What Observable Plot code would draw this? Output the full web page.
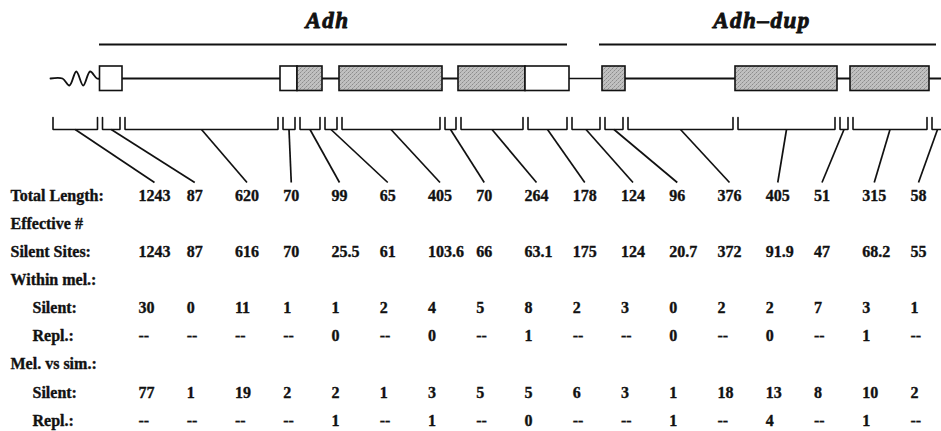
<!DOCTYPE html>
<html>
<head>
<meta charset="utf-8">
<script src="https://cdn.jsdelivr.net/npm/d3@7"></script>
<script src="https://cdn.jsdelivr.net/npm/@observablehq/plot@0.6"></script>
<style>
  html, body { margin: 0; padding: 0; background: #fff; }
  #chart svg { display: block; }
</style>
</head>
<body>
<!-- stippled fill used for the coding exons -->
<svg width="0" height="0" style="position:absolute">
  <defs>
    <pattern id="stipple" width="4" height="4" patternUnits="userSpaceOnUse">
      <rect width="4" height="4" fill="#c0c0c0"/>
      <rect x="0" y="0" width="1" height="1" fill="#8c8c8c"/>
      <rect x="2" y="2" width="1" height="1" fill="#8c8c8c"/>
      <rect x="1" y="3" width="1" height="1" fill="#a4a4a4"/>
      <rect x="3" y="1" width="1" height="1" fill="#a4a4a4"/>
    </pattern>
  </defs>
</svg>
<div id="chart"></div>
<script>
// ---- Gene map: segment boundaries along the schematic map axis ----
const segmentEdges = [50, 99.5, 122, 280, 297, 322, 339, 442, 458, 525, 569, 602, 625, 735, 837, 850, 929, 945];
const segmentKinds = ["flank", "utr", "intron", "utr", "coding", "intron", "coding", "intron", "coding", "utr",
                      "spacer", "coding", "intron", "coding", "intron", "coding", "intron"];
const geneNames = ["Adh", "Adh–dup"];
const geneStart = [99, 599];
const geneEnd = [567, 936];

// ---- Table: one column per map segment ----
const rowLabels = ["Total Length:", "Effective #", "Silent Sites:", "Within mel.:", "Silent:", "Repl.:",
                   "Mel. vs sim.:", "Silent:", "Repl.:"];
const rowLevel = [0, 0, 0, 0, 1, 1, 0, 1, 1];
const totalLength = [1243, 87, 620, 70, 99, 65, 405, 70, 264, 178, 124, 96, 376, 405, 51, 315, 58];
const silentSites = [1243, 87, 616, 70, 25.5, 61, 103.6, 66, 63.1, 175, 124, 20.7, 372, 91.9, 47, 68.2, 55];
const melSilent = [30, 0, 11, 1, 1, 2, 4, 5, 8, 2, 3, 0, 2, 2, 7, 3, 1];
const melRepl = [null, null, null, null, 0, null, 0, null, 1, null, null, 0, null, 0, null, 1, null];
const simSilent = [77, 1, 19, 2, 2, 1, 3, 5, 5, 6, 3, 1, 18, 13, 8, 10, 2];
const simRepl = [null, null, null, null, 1, null, 1, null, 0, null, null, 1, null, 4, null, 1, null];

// which table row each value list fills
const rowValues = [[0, totalLength], [2, silentSites], [4, melSilent], [5, melRepl], [7, simSilent], [8, simRepl]];

// ---- layout of the map tiers ----
const tier = {title: 20, geneBar: 44, axis: 78, exonTop: 66, exonBottom: 90.5,
              bracketTop: 117, bracketBottom: 129, leaderEnd: 182};
const font = "'Liberation Serif', 'Times New Roman', serif";
const ink = "#111";

// table column / row positions
const col = Plot.scale({x: {type: "linear", domain: [0, totalLength.length - 1], range: [138, 910]}});
const row = Plot.scale({y: {type: "linear", domain: [0, rowLabels.length - 1], range: [195, 420]}});

const fmt = v => v == null ? "--" : String(v);

const segments = segmentKinds.map((kind, i) => ({i, kind, x0: segmentEdges[i], x1: segmentEdges[i + 1]}));
const exons = segments.filter(s => s.kind === "utr" || s.kind === "coding");
const links = segments.filter(s => s.kind === "intron" || s.kind === "spacer");
const flank = segments.find(s => s.kind === "flank");

// 5' flanking region: straight line with a wavy break
const waveOffsets = [0, 7, -7, 7, -7, 0];
const waveFrom = flank.x0 + 12, waveTo = flank.x1 - 3;
const flankPath = [
  {x: flank.x0, y: tier.axis},
  ...waveOffsets.map((o, k) => ({x: waveFrom + (waveTo - waveFrom) * k / (waveOffsets.length - 1), y: tier.axis + o})),
  {x: flank.x1, y: tier.axis}
];

// brackets under each segment
const inset = 2.5;
const brackets = segments.flatMap(s => {
  const a = s.x0 + inset, b = s.x1 - inset;
  return [[a, tier.bracketTop], [a, tier.bracketBottom], [b, tier.bracketBottom], [b, tier.bracketTop]]
    .map(([x, y]) => ({seg: s.i, x, y}));
});

// text width helper so leaders land on the centre of each length label
const ctx = document.createElement("canvas").getContext("2d");
ctx.font = `bold 16px ${font}`;
const leaders = segments.map(s => ({
  x1: (s.x0 + s.x1) / 2,
  x2: col.apply(s.i) + ctx.measureText(fmt(totalLength[s.i])).width / 2
}));

const cells = rowValues.flatMap(([r, values]) =>
  values.map((v, i) => ({x: col.apply(i), y: row.apply(r), text: fmt(v)})));

const labels = rowLabels.map((t, r) => ({x: 10 + rowLevel[r] * 22, y: row.apply(r), text: t}));

const genes = geneNames.map((name, i) => ({name, from: geneStart[i], to: geneEnd[i]}));

const textStyle = {fontFamily: font, fontWeight: "bold", fontSize: 16, fill: ink,
                   stroke: ink, strokeWidth: 0.35, textAnchor: "start"};

const chart = Plot.plot({
  width: 941,
  height: 431,
  margin: 0,
  x: {type: "linear", domain: [0, 941], range: [0, 941], axis: null},
  y: {type: "linear", domain: [0, 431], range: [0, 431], axis: null},
  style: {background: "#fff", color: ink},
  marks: [
    // gene spans and names
    Plot.ruleY(genes, {y: tier.geneBar, x1: "from", x2: "to", stroke: ink, strokeWidth: 2.2}),
    Plot.text(genes, {x: d => (d.from + d.to) / 2 - 6, y: tier.title, text: "name", fontFamily: font,
                      fontStyle: "italic", fontWeight: "bold", fontSize: 23, fill: ink,
                      stroke: ink, strokeWidth: 0.9}),
    // flanking region, introns and spacer
    Plot.line(flankPath, {x: "x", y: "y", stroke: ink, strokeWidth: 1.8, curve: "catmull-rom"}),
    Plot.ruleY(links, {y: tier.axis, x1: "x0", x2: "x1", stroke: ink,
                       strokeWidth: d => d.kind === "spacer" ? 1.3 : 2}),
    // exons: open = untranslated, stippled = coding
    Plot.rect(exons, {x1: "x0", x2: "x1", y1: tier.exonTop, y2: tier.exonBottom,
                      fill: d => d.kind === "coding" ? "url(#stipple)" : "#fff",
                      stroke: ink, strokeWidth: 1.6}),
    // brackets and leaders to the table
    Plot.line(brackets, {x: "x", y: "y", z: "seg", stroke: ink, strokeWidth: 1.6, strokeLinejoin: "miter"}),
    Plot.link(leaders, {x1: "x1", y1: tier.bracketBottom, x2: "x2", y2: tier.leaderEnd,
                        stroke: ink, strokeWidth: 1.7}),
    // table
    Plot.text(labels, {x: "x", y: "y", text: "text", ...textStyle}),
    Plot.text(cells, {x: "x", y: "y", text: "text", ...textStyle})
  ]
});

// widen the gene names a little
chart.querySelectorAll("text").forEach(t => {
  if (geneNames.includes(t.textContent)) t.setAttribute("letter-spacing", "1.5");
});

document.getElementById("chart").append(chart);
</script>
</body>
</html>
